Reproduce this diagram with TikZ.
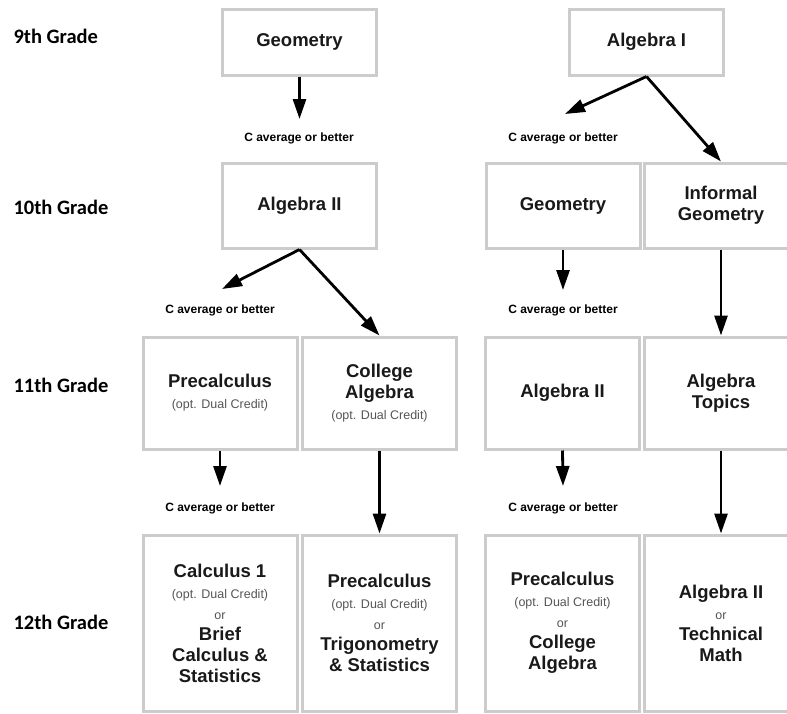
\documentclass[tikz,border=0pt]{standalone}
\usepackage{fontspec}
\setmainfont{Liberation Sans}
\newfontfamily\gradefont{Carlito}
\usetikzlibrary{arrows.meta}

\definecolor{boxgray}{RGB}{204,204,204}
\definecolor{notegray}{RGB}{85,85,85}
\newcommand{\dualcr}{{\color{notegray}\mdseries\fontsize{12.5}{17}\selectfont (opt. Dual Credit)}}
\newcommand{\orword}{{\color{notegray}\mdseries\fontsize{12.5}{17}\selectfont or}}

\begin{document}
\begin{tikzpicture}[x=1pt, y=-1pt,
    course/.style={draw=boxgray, line width=3pt, minimum width=154pt, align=center,
      text=black!90, font=\bfseries\fontsize{18.5}{21}\selectfont},
    grade/.style={anchor=west, font=\gradefont\bfseries\fontsize{20.5}{24}\selectfont},
    cond/.style={font=\bfseries\fontsize{12}{14}\selectfont},
    arr/.style={line width=2.8pt, -{Triangle[length=20pt,width=13pt]}}]
\fill[white] (0,0) rectangle (787,713);
\useasboundingbox (0,0) rectangle (787,713);

% grade labels
\node[grade] (g9) at (10,36) {9th Grade};
\node[grade] (g10) at (10,207) {10th Grade};
\node[grade] (g11) at (10,385) {11th Grade};
\node[grade] (g12) at (10,622) {12th Grade};

% 9th grade
\node[course, minimum height=66pt] (geo9) at (299.5,42) {Geometry};
\node[course, minimum height=66pt] (alg1) at (646.5,42) {Algebra I};

% 10th grade
\node[course, minimum height=85pt] (alg2) at (299.5,205.5) {Algebra II};
\node[course, minimum height=85pt] (geo10) at (563,205.5) {Geometry};
\node[course, minimum height=85pt] (infgeo) at (721,205.5) {Informal\\Geometry};

% 11th grade
\node[course, minimum height=112pt] (precalc11) at (220,393) {Precalculus\\\dualcr};
\node[course, minimum height=112pt] (colalg) at (379.5,393) {College\\Algebra\\\dualcr};
\node[course, minimum height=112pt] (alg2r) at (562.5,393) {Algebra II};
\node[course, minimum height=112pt] (algtop) at (721,393) {Algebra\\Topics};

% 12th grade
\node[course, minimum height=176pt] (calc) at (220,623)
  {Calculus 1\\\dualcr\\\orword\\Brief\\Calculus \&\\Statistics};
\node[course, minimum height=176pt] (precalc12) at (379.5,623)
  {Precalculus\\\dualcr\\\orword\\Trigonometry\\\& Statistics};
\node[course, minimum height=176pt] (precalcr) at (562.5,623)
  {Precalculus\\\dualcr\\\orword\\College\\Algebra};
\node[course, minimum height=176pt] (alg2tech) at (721,623)
  {Algebra II\\\orword\\Technical\\Math};

% conditions
\node[cond] (c1) at (299,138) {C average or better};
\node[cond] (c2) at (563,138) {C average or better};
\node[cond] (c3) at (220,310) {C average or better};
\node[cond] (c4) at (563,310) {C average or better};
\node[cond] (c5) at (220,508) {C average or better};
\node[cond] (c6) at (563,508) {C average or better};

% arrow ends
\coordinate (e1) at (299.5,119);
\coordinate (e2) at (565,114);
\coordinate (e3) at (222,289);
\coordinate (e4) at (563,290);
\coordinate (e5) at (220,486);
\coordinate (e6) at (563,486);

\draw[arr] (geo9.south) -- (e1);
\draw[arr] (alg1.south) -- (e2);
\draw[arr] (alg1.south) -- (infgeo.north);
\draw[arr] (alg2.south) -- (e3);
\draw[arr] (alg2.south) -- (colalg.north);
\draw[arr] (geo10.south) -- (e4);
\draw[arr] (infgeo.south) -- (algtop.north);
\draw[arr] (precalc11.south) -- (e5);
\draw[arr] (colalg.south) -- (precalc12.north);
\draw[arr] (alg2r.south) -- (e6);
\draw[arr] (algtop.south) -- (alg2tech.north);
\end{tikzpicture}
\end{document}
